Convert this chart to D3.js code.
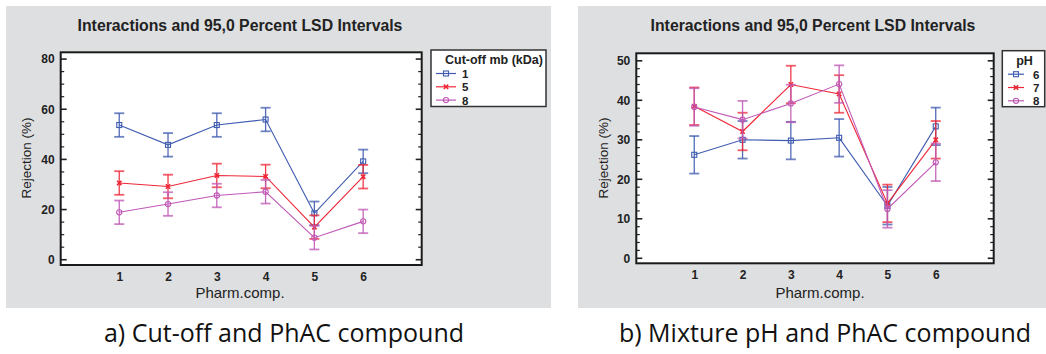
<!DOCTYPE html>
<html>
<head>
<meta charset="utf-8">
<script src="https://cdn.jsdelivr.net/npm/d3@7"></script>
<style>
  body { margin: 0; background: #fff; }
  svg { display: block; }
  .title { font-family: "Liberation Sans", Arial, sans-serif; font-weight: bold; font-size: 15.8px; fill: #222; }
  .tick-label { font-family: "Liberation Sans", Arial, sans-serif; font-weight: bold; font-size: 12px; fill: #222; }
  .axis-label { font-family: "Liberation Sans", Arial, sans-serif; font-size: 15px; fill: #222; }
  .leg-title { font-family: "Liberation Sans", Arial, sans-serif; font-weight: bold; font-size: 12.5px; fill: #222; }
  .leg-label { font-family: "Liberation Sans", Arial, sans-serif; font-weight: bold; font-size: 11.5px; fill: #222; }
  .caption { font-family: "Open Sans", sans-serif; font-size: 25px; fill: #111; }
</style>
</head>
<body>
<div id="chart"></div>
<script>
// values
const categories = [1, 2, 3, 4, 5, 6];

const cutoffGroups = ["1", "5", "8"];
const cutoff1 = [53.7, 45.8, 53.7, 55.9, 18.5, 39.2];
const cutoff5 = [30.6, 29.2, 33.6, 33.2, 13.0, 33.1];
const cutoff8 = [18.9, 22.2, 25.6, 27.1, 8.8, 15.3];
const cutoffLsd = 4.7;   // half width of the LSD interval
const cutoffTicks = [0, 20, 40, 60, 80];

const phGroups = ["6", "7", "8"];
const ph6 = [26.2, 30.0, 29.8, 30.5, 13.3, 33.4];
const ph7 = [38.5, 32.1, 44.0, 41.6, 13.9, 30.0];
const ph8 = [38.3, 35.1, 39.2, 44.1, 12.5, 24.3];
const phLsd = 4.75;
const phTicks = [0, 10, 20, 30, 40, 50];

const colors = ["#3f5cb0", "#ee2636", "#c058b6"];
const markers = ["square", "cross", "circle"];

const svg = d3.select("#chart").append("svg")
    .attr("width", 1046)
    .attr("height", 354);

function drawMarker(g, type, x, y, color) {
    if (type === "square") {
        g.append("rect")
            .attr("x", x - 2.5).attr("y", y - 2.5)
            .attr("width", 5).attr("height", 5)
            .attr("fill", "none").attr("stroke", color).attr("stroke-width", 1.1);
    } else if (type === "cross") {
        g.append("path")
            .attr("d", `M${x-2.2},${y-2.2}L${x+2.2},${y+2.2}M${x-2.2},${y+2.2}L${x+2.2},${y-2.2}`)
            .attr("stroke", color).attr("stroke-width", 1.6);
    } else {
        g.append("circle")
            .attr("cx", x).attr("cy", y).attr("r", 2.6)
            .attr("fill", "none").attr("stroke", color).attr("stroke-width", 1.1);
    }
}

function drawPanel(p) {
    let g = svg.append("g");

    // gray background
    g.append("rect")
        .attr("x", p.bg[0]).attr("y", p.bg[1])
        .attr("width", p.bg[2] - p.bg[0]).attr("height", p.bg[3] - p.bg[1])
        .attr("fill", "#dedfe1");

    // scales
    let x = d3.scaleLinear().domain([-0.2, 7.2]).range([p.frame[0], p.frame[2]]);
    let y = d3.scaleLinear().domain(p.yDomain).range([p.frame[3], p.frame[1]]);

    // plot area
    g.append("rect")
        .attr("x", p.frame[0]).attr("y", p.frame[1])
        .attr("width", p.frame[2] - p.frame[0]).attr("height", p.frame[3] - p.frame[1])
        .attr("fill", "#fff");

    // y ticks on both sides, pointing inwards
    let minor = d3.range(0, p.ticks[p.ticks.length - 1] + 0.001, p.minorStep);
    let tickG = g.append("g").attr("stroke", "#222");
    minor.forEach(v => {
        let len = p.ticks.includes(v) ? 6 : 3.5;
        tickG.append("line")
            .attr("x1", p.frame[0]).attr("x2", p.frame[0] + len)
            .attr("y1", y(v)).attr("y2", y(v))
            .attr("stroke-width", p.ticks.includes(v) ? 1.6 : 1.2);
        tickG.append("line")
            .attr("x1", p.frame[2]).attr("x2", p.frame[2] - len)
            .attr("y1", y(v)).attr("y2", y(v))
            .attr("stroke-width", p.ticks.includes(v) ? 1.6 : 1.2);
    });

    let yAxis = d3.axisLeft(y).tickValues(p.ticks).tickSize(0).tickPadding(6);
    g.append("g")
        .attr("transform", "translate(" + p.frame[0] + ",0)")
        .call(yAxis)
        .call(a => a.select(".domain").remove())
        .selectAll("text").attr("class", "tick-label").attr("font-family", null).attr("font-size", null);

    let xAxis = d3.axisBottom(x).tickValues(categories).tickSize(0).tickPadding(7).tickFormat(d3.format("d"));
    g.append("g")
        .attr("transform", "translate(0," + p.frame[3] + ")")
        .call(xAxis)
        .call(a => a.select(".domain").remove())
        .selectAll("text").attr("class", "tick-label").attr("font-family", null).attr("font-size", null);

    // series
    p.series.forEach((s, i) => {
        let sg = g.append("g");
        let col = colors[i];
        // error bars
        s.forEach((v, j) => {
            let cx = x(categories[j]);
            sg.append("line")
                .attr("x1", cx).attr("x2", cx)
                .attr("y1", y(v - p.lsd)).attr("y2", y(v + p.lsd))
                .attr("stroke", col).attr("stroke-width", 1.3).attr("opacity", 0.9);
            [v - p.lsd, v + p.lsd].forEach(e => {
                sg.append("line")
                    .attr("x1", cx - 5).attr("x2", cx + 5)
                    .attr("y1", y(e)).attr("y2", y(e))
                    .attr("stroke", col).attr("stroke-width", 1.8).attr("opacity", 0.75);
            });
        });
        // connecting line
        let line = d3.line().x((d, j) => x(categories[j])).y(d => y(d));
        sg.append("path")
            .datum(s)
            .attr("d", line)
            .attr("fill", "none")
            .attr("stroke", col)
            .attr("stroke-width", 1.1);
        s.forEach((v, j) => drawMarker(sg, markers[i], x(categories[j]), y(v), col));
    });

    // frame
    g.append("rect")
        .attr("x", p.frame[0]).attr("y", p.frame[1])
        .attr("width", p.frame[2] - p.frame[0]).attr("height", p.frame[3] - p.frame[1])
        .attr("fill", "none").attr("stroke", "#1a1a1a").attr("stroke-width", 2);

    // title
    g.append("text")
        .attr("class", "title")
        .attr("x", p.titleX).attr("y", 31)
        .attr("text-anchor", "middle")
        .text("Interactions and 95,0 Percent LSD Intervals");

    // axis labels
    g.append("text")
        .attr("class", "axis-label")
        .attr("x", p.xLabelX).attr("y", 298)
        .attr("text-anchor", "middle")
        .text("Pharm.comp.");

    g.append("text")
        .attr("class", "axis-label")
        .attr("transform", "translate(" + p.yLabelX + ",158) rotate(-90)")
        .attr("text-anchor", "middle")
        .style("font-size", "13.5px")
        .text("Rejection (%)");

    // legend
    let L = p.legend;
    g.append("rect")
        .attr("x", L.box[0]).attr("y", L.box[1])
        .attr("width", L.box[2] - L.box[0]).attr("height", L.box[3] - L.box[1])
        .attr("fill", "#fff").attr("stroke", "#333").attr("stroke-width", 1.5);
    g.append("text")
        .attr("class", "leg-title")
        .attr("x", L.titleX).attr("y", L.box[1] + 14)
        .attr("text-anchor", L.titleAnchor)
        .text(L.title);
    p.groups.forEach((name, i) => {
        let ly = L.box[1] + 23.5 + i * 13.3;
        g.append("line")
            .attr("x1", L.line[0]).attr("x2", L.line[1])
            .attr("y1", ly).attr("y2", ly)
            .attr("stroke", colors[i]).attr("stroke-width", 1.2);
        drawMarker(g, markers[i], (L.line[0] + L.line[1]) / 2, ly, colors[i]);
        g.append("text")
            .attr("class", "leg-label")
            .attr("x", L.labelX).attr("y", ly + 4.5)
            .text(name);
    });

    // caption under the panel
    svg.append("text")
        .attr("class", "caption")
        .attr("x", p.captionX).attr("y", 342)
        .attr("text-anchor", "middle")
        .text(p.caption);
}

drawPanel({
    bg: [6, 6, 551, 308],
    frame: [60.7, 52.3, 421.7, 265],
    yDomain: [-2.1, 82.7],
    ticks: cutoffTicks,
    minorStep: 5,
    lsd: cutoffLsd,
    series: [cutoff1, cutoff5, cutoff8],
    groups: cutoffGroups,
    titleX: 240,
    xLabelX: 240,
    yLabelX: 31,
    legend: {box: [431, 50, 546, 106.5], title: "Cut-off mb (kDa)", titleX: 445, titleAnchor: "start",
             line: [436, 456], labelX: 462},
    caption: "a) Cut-off and PhAC compound",
    captionX: 284
});

drawPanel({
    bg: [578, 6, 1046, 308],
    frame: [636.3, 53.3, 993.7, 263.3],
    yDomain: [-1.27, 51.9],
    ticks: phTicks,
    minorStep: 2,
    lsd: phLsd,
    series: [ph6, ph7, ph8],
    groups: phGroups,
    titleX: 813,
    xLabelX: 820,
    yLabelX: 608,
    legend: {box: [1002.3, 50.7, 1044.7, 106.7], title: "pH", titleX: 1024.5, titleAnchor: "middle",
             line: [1008, 1024], labelX: 1033},
    caption: "b) Mixture pH and PhAC compound",
    captionX: 825
});
</script>
</body>
</html>
